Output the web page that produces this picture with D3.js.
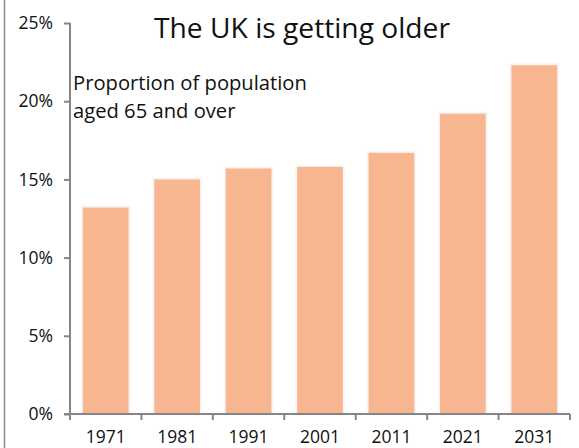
<!DOCTYPE html>
<html>
<head>
<meta charset="utf-8">
<script src="https://cdn.jsdelivr.net/npm/d3@7"></script>
<style>
  html, body { margin: 0; padding: 0; background: #fff; }
  svg { display: block; font-family: "Open Sans", "Noto Sans", sans-serif; }
</style>
</head>
<body>
<svg id="chart" width="579" height="448"></svg>
<script>
// Share of UK population aged 65 and over, by census year (%)
const years = ["1971", "1981", "1991", "2001", "2011", "2021", "2031"];
const shares = [13.2, 15.0, 15.7, 15.8, 16.7, 19.2, 22.3];
const yTicks = [0, 5, 10, 15, 20, 25];

const svg = d3.select("#chart");
const margin = { left: 70, right: 9, top: 23, bottom: 34 };
const W = 579, H = 448;

const x = d3.scaleBand()
  .domain(years)
  .range([margin.left, W - margin.right])
  .paddingInner(0.36)
  .paddingOuter(0.18);

const y = d3.scaleLinear()
  .domain([0, 25])
  .range([H - margin.bottom, margin.top]);

// outer frame edge on the left
svg.append("line")
  .attr("x1", 4.5).attr("x2", 4.5).attr("y1", 0).attr("y2", H)
  .attr("stroke", "#8a8a8a").attr("stroke-width", 1.5);

// bars with a faint light halo
const bars = svg.append("g");
bars.selectAll("rect.halo")
  .data(years)
  .join("rect")
  .attr("class", "halo")
  .attr("x", (d) => x(d) - 2)
  .attr("width", x.bandwidth() + 4)
  .attr("y", (d, i) => y(shares[i]) - 2)
  .attr("height", (d, i) => y(0) - y(shares[i]) + 2)
  .attr("fill", "#f7f5f4");
bars.selectAll("rect.bar")
  .data(years)
  .join("rect")
  .attr("class", "bar")
  .attr("x", (d) => x(d))
  .attr("width", x.bandwidth())
  .attr("y", (d, i) => y(shares[i]))
  .attr("height", (d, i) => y(0) - y(shares[i]))
  .attr("fill", "#f8b690");

// axes
const axisColor = "#868686";
const yAxis = svg.append("g")
  .attr("transform", `translate(${margin.left},0)`)
  .call(d3.axisLeft(y).tickValues(yTicks).tickFormat((d) => d + "%").tickSize(6).tickPadding(11));
yAxis.select(".domain").attr("d", `M0,${y(25)}V${y(0)}`);

const xAxis = svg.append("g")
  .attr("transform", `translate(0,${y(0)})`)
  .call(d3.axisBottom(x).tickSize(0).tickPadding(17));
xAxis.select(".domain").attr("d", `M${margin.left - 6},0H${W - margin.right}`);

// x tick marks sit on the category boundaries
const bounds = d3.range(years.length + 1).map((i) => x.range()[0] + i * (x.range()[1] - x.range()[0]) / years.length);
xAxis.selectAll("line.bound")
  .data(bounds)
  .join("line")
  .attr("class", "bound")
  .attr("x1", (d) => d).attr("x2", (d) => d)
  .attr("y1", 0).attr("y2", 6);

[yAxis, xAxis].forEach((g) => {
  g.selectAll(".domain, line").attr("stroke", axisColor).attr("stroke-width", 2);
  g.selectAll("text").attr("fill", "#111").attr("font-size", 17.5)
    .attr("font-family", "'Open Sans', 'Noto Sans', sans-serif");
});

// title and subtitle
svg.append("text")
  .attr("x", 302).attr("y", 38)
  .attr("text-anchor", "middle")
  .attr("font-size", 28.2)
  .attr("fill", "#111")
  .text("The UK is getting older");

const sub = svg.append("text")
  .attr("font-size", 20.2)
  .attr("fill", "#111");
sub.append("tspan").attr("x", 73).attr("y", 90).text("Proportion of population");
sub.append("tspan").attr("x", 73).attr("y", 118).text("aged 65 and over");
</script>
</body>
</html>
